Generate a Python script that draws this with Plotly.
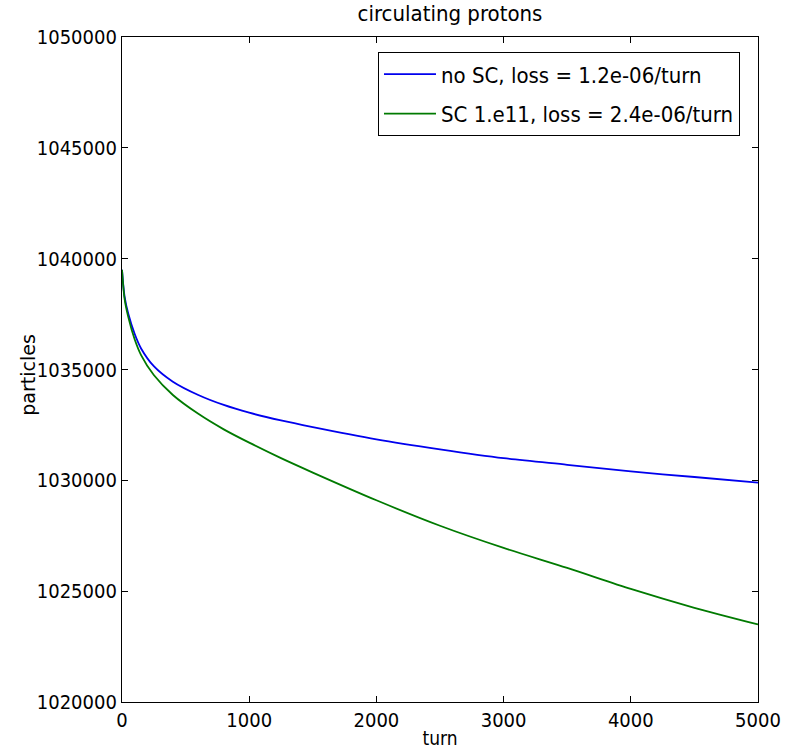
import plotly.graph_objects as go

turns = [0, 20, 50, 100, 150, 250, 400, 600, 800, 1000, 1250, 1500, 2000, 2500, 3000, 3500, 4000, 4500, 5000]
no_sc = [1039500, 1038300, 1037500, 1036600, 1035950, 1035150, 1034450, 1033850, 1033400, 1033050,
         1032700, 1032400, 1031850, 1031400, 1031000, 1030700, 1030400, 1030150, 1029900]
sc_1e11 = [1039500, 1038200, 1037350, 1036350, 1035650, 1034750, 1033850, 1033000, 1032300, 1031700,
           1031000, 1030350, 1029100, 1027950, 1026950, 1026050, 1025100, 1024250, 1023500]
names = ["no SC, loss = 1.2e-06/turn", "SC 1.e11, loss = 2.4e-06/turn"]
x_ticks = [0, 1000, 2000, 3000, 4000, 5000]
y_ticks = [1020000, 1025000, 1030000, 1035000, 1040000, 1045000, 1050000]

font_fam = "DejaVu Sans Condensed, DejaVu Sans, sans-serif"

fig = go.Figure()
fig.add_trace(go.Scatter(x=turns, y=no_sc, mode="lines", name=names[0], legendgroup="a",
                         line=dict(color="#0000ee", width=1.8, shape="spline", smoothing=0.8)))
fig.add_trace(go.Scatter(x=turns, y=sc_1e11, mode="lines", name=names[1], legendgroup="b",
                         line=dict(color="#007a00", width=1.8, shape="spline", smoothing=0.8)))

axis_common = dict(showline=True, linecolor="black", linewidth=1.2, mirror="ticks",
                   ticks="inside", ticklen=6, tickcolor="black", showgrid=False, zeroline=False,
                   automargin=False,
                   tickfont=dict(family=font_fam, size=20, color="black"))

fig.update_layout(
    width=786, height=754,
    margin=dict(l=122, r=28, t=37, b=52),
    paper_bgcolor="white", plot_bgcolor="white",
    title=dict(text="circulating protons", x=0.5725, xanchor="center", y=0.992, yanchor="top",
               font=dict(family=font_fam, size=22, color="black")),
    xaxis=dict(range=[0, 5000], tickvals=x_ticks, tickformat="d",
               title=dict(text="turn", standoff=0, font=dict(family=font_fam, size=19, color="black")),
               **axis_common),
    yaxis=dict(range=[1020000, 1050000], tickvals=y_ticks, tickformat="d", **axis_common),
    legend=dict(x=0.4025, y=0.977, xanchor="left", yanchor="top", bordercolor="black", borderwidth=1,
                bgcolor="white", font=dict(family=font_fam, size=22, color="black"),
                traceorder="grouped", tracegroupgap=8, itemwidth=52),
    showlegend=True,
    annotations=[dict(text="particles", xref="paper", yref="paper", x=-0.148, y=0.492,
                      xanchor="center", yanchor="middle", textangle=-90, showarrow=False,
                      font=dict(family="DejaVu Sans", size=19, color="black"))],
)

fig.write_html("out.html")
